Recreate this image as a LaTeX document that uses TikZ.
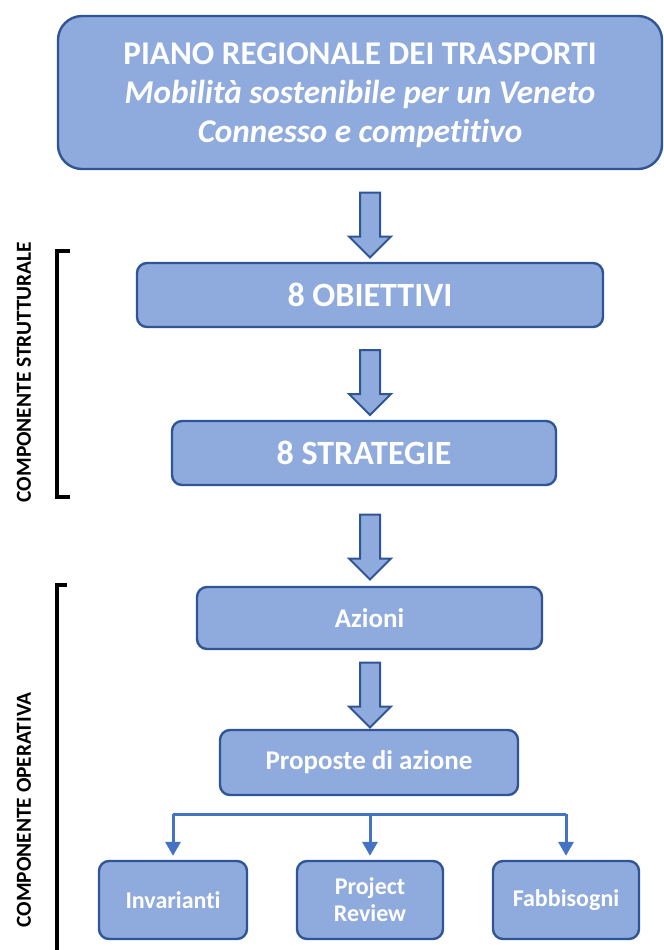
\documentclass[tikz,border=0pt]{standalone}
\usepackage{fontspec}
\setmainfont[Ligatures=NoCommon]{Carlito}
\usepackage{tikz}
\usetikzlibrary{positioning, shapes.arrows, arrows.meta, calc}
\definecolor{boxfill}{RGB}{143,170,220}
\definecolor{boxline}{RGB}{47,85,151}
\definecolor{linkblue}{RGB}{68,114,196}

\begin{document}
\begin{tikzpicture}[
    x=0.5pt, y=-0.5pt,
    blk/.style={
        rectangle,
        rounded corners=5pt,
        draw=boxline,
        line width=1.2pt,
        fill=boxfill,
        text=white,
        align=center,
        inner sep=0pt,
        font=\bfseries,
    },
    head/.style={blk, rounded corners=12pt, font=\fontsize{16.6}{19.5}\selectfont\bfseries},
    big/.style={blk, font=\fontsize{17}{20}\selectfont\bfseries},
    mid/.style={blk, font=\fontsize{13.5}{16}\selectfont\bfseries},
    leaf/.style={blk, font=\fontsize{12}{13.5}\selectfont\bfseries},
    fat/.style={
        single arrow,
        rotate=-90,
        draw=boxline,
        line width=1pt,
        fill=boxfill,
        inner xsep=0pt,
        inner ysep=4.5pt,
        single arrow head extend=5.5pt,
        single arrow tip angle=90,
        minimum height=32.5pt,
    },
    branch/.style={draw=linkblue, line width=1.5pt},
    branchar/.style={branch, -{Triangle[width=7.5pt, length=7pt]}, shorten >=2pt},
    bracket/.style={draw=black, line width=1.6pt},
    side/.style={font=\fontsize{10.7}{12}\selectfont\bfseries, rotate=90}
]
\useasboundingbox (0,0) rectangle (664,950);

\node[head, minimum width=302pt, minimum height=76.5pt, text depth=-3pt] (PRT) at (360,92.5) {%
  PIANO REGIONALE DEI TRASPORTI\\
  \itshape Mobilità sostenibile per un Veneto\\
  \itshape Connesso e competitivo%
};
\node[big, minimum width=233pt, minimum height=32pt] (OBJ) at (370,295) {8 OBIETTIVI};
\node[big, minimum width=192pt, minimum height=32pt] (STR) at (364,453) {8 STRATEGIE};
\node[mid, minimum width=172.5pt, minimum height=31pt] (AZ) at (369.5,618) {Azioni};
\node[mid, minimum width=149pt, minimum height=32.5pt] (PROP) at (369,762.5) {Proposte di azione};
\node[leaf, minimum width=74pt, minimum height=39pt] (INV) at (173,900) {Invarianti};
\node[leaf, minimum width=73pt, minimum height=39pt] (PRJ) at (370,900) {Project\\Review};
\node[leaf, minimum width=73pt, minimum height=39pt] (FAB) at (566,900) {Fabbisogni};

\node[fat] (A1) at (370,220) {};
\node[fat] (A2) at (370,377.5) {};
\node[fat] (A3) at (370,542) {};
\node[fat] (A4) at (370,690) {};

\node[side] (SS) at (24,372) {COMPONENTE STRUTTURALE};
\node[side] (SO) at (24,810) {COMPONENTE OPERATIVA};

\draw[bracket] (70,251) -- (57,251) -- (57,497) -- (70,497);
\draw[bracket] (67,585) -- (57,585) -- (57,952);

\coordinate (br) at ($(PROP.south)+(0,18)$);
\draw[branch] (INV.north |- br) -- (FAB.north |- br);
\draw[branchar] (INV.north |- br) -- (INV);
\draw[branchar] (PRJ.north |- br) -- (PRJ);
\draw[branchar] (FAB.north |- br) -- (FAB);
\end{tikzpicture}
\end{document}
